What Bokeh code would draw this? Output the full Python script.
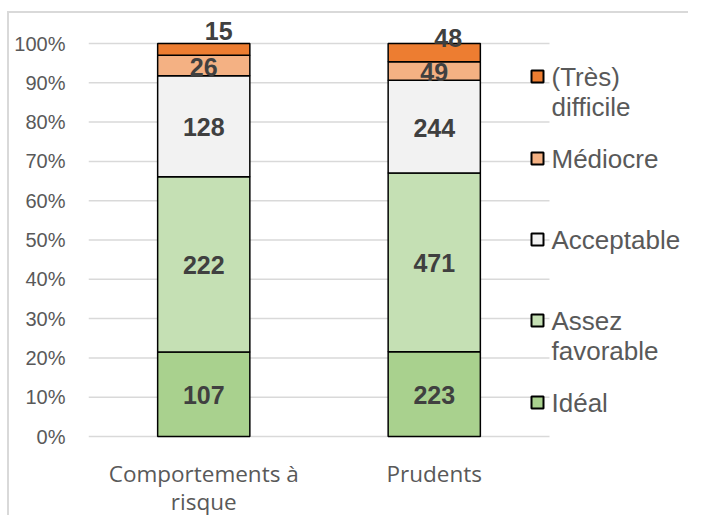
from bokeh.plotting import figure
from bokeh.models import ColumnDataSource, Range1d, FixedTicker, PrintfTickFormatter
from bokeh.core.properties import value
from bokeh.embed import file_html
from bokeh.resources import INLINE

# ---------------- data ----------------
categories = ["Comportements à\nrisque", "Prudents"]
series_names = ["Idéal", "Assez favorable", "Acceptable", "Médiocre", "(Très) difficile"]
ideal = [107, 223]
assez_favorable = [222, 471]
acceptable = [128, 244]
mediocre = [26, 49]
tres_difficile = [15, 48]
y_ticks = [0, 10, 20, 30, 40, 50, 60, 70, 80, 90, 100]

series_values = [ideal, assez_favorable, acceptable, mediocre, tres_difficile]
colors = ["#A9D18E", "#C5E0B4", "#F2F2F2", "#F4B183", "#ED7D31"]
keys = ["s0", "s1", "s2", "s3", "s4"]

# ---------------- layout ----------------
PX = 3.93          # px per percent
UNIT = 230.5       # px per category
LEFT = 88
FRAME_W, FRAME_H = 600, 515
Y0 = 436           # canvas y of 0 %
Y100 = 43          # canvas y of 100 %
x_pos = [0.5, 1.5]
totals = [sum(v[i] for v in series_values) for i in range(len(categories))]

p = figure(output_backend="svg", toolbar_location=None,
           frame_width=FRAME_W, frame_height=FRAME_H,
           x_range=Range1d(0, FRAME_W / UNIT),
           y_range=Range1d(-(FRAME_H - Y0) / PX, 100 + Y100 / PX),
           min_border_left=LEFT, min_border_right=0, min_border_top=0, min_border_bottom=0)
p.background_fill_color = None
p.border_fill_color = None
p.outline_line_color = None
p.xgrid.visible = False
p.ygrid.visible = False
# light chart-area border (left and top edges) painted behind the transparent canvas
p.styles = {"background": "linear-gradient(#d9d9d9, #d9d9d9) 7px 11px / 2px 100% no-repeat, "
                          "linear-gradient(#d9d9d9, #d9d9d9) 7px 11px / 100% 2px no-repeat, white"}

# gridlines limited to plot area
p.segment(x0=[0] * len(y_ticks), x1=[2] * len(y_ticks), y0=y_ticks, y1=y_ticks,
          line_color="#d9d9d9", line_width=1.5)

# stacked bars (percent)
pct = {"x": x_pos}
for k, vals in zip(keys, series_values):
    pct[k] = [100.0 * vals[i] / totals[i] for i in range(len(categories))]
src = ColumnDataSource(pct)
p.vbar_stack(keys, x="x", width=0.4, source=src, fill_color=colors,
             line_color="black", line_width=1.5)

# data labels
lx, ly, lt, dx, dy = [], [], [], [], []
top_dx = [15, 14]
top_dy = [-18, -15]
for i in range(len(categories)):
    cum = 0.0
    for j, k in enumerate(keys):
        v = pct[k][i]
        lx.append(x_pos[i])
        ly.append(cum + v / 2)
        lt.append(str(series_values[j][i]))
        if j == len(keys) - 1:
            dx.append(top_dx[i]); dy.append(top_dy[i])
        else:
            dx.append(0); dy.append(1)
        cum += v
lsrc = ColumnDataSource(dict(x=lx, y=ly, text=lt, dx=dx, dy=dy))
p.text(x="x", y="y", text="text", x_offset="dx", y_offset="dy", source=lsrc,
       text_font=value("Liberation Sans"), text_font_style="bold",
       text_font_size="25px", text_color="#404040",
       text_align="center", text_baseline="middle")

# legend (manual, top to bottom)
leg_y_px = [76, 158, 239, 320, 402]
leg_y = [(Y0 - c) / PX for c in leg_y_px]
leg_names = list(reversed(series_names))
leg_colors = list(reversed(colors))
p.rect(x=[449 / UNIT] * 5, y=leg_y, width=12, height=12,
       width_units="screen", height_units="screen",
       fill_color=leg_colors, line_color="black", line_width=2)
tx, ty, tt, toff = [], [], [], []
for name, yy in zip(leg_names, leg_y):
    parts = name.split(" ") if name in ("(Très) difficile", "Assez favorable") else [name]
    for n, part in enumerate(parts):
        tx.append(463 / UNIT)
        ty.append(yy)
        tt.append(part)
        toff.append(30 * n)
tsrc = ColumnDataSource(dict(x=tx, y=ty, text=tt, off=toff))
p.text(x="x", y="y", text="text", y_offset="off", source=tsrc,
       text_font=value("Liberation Sans"), text_font_size="26px",
       text_color="#595959", text_align="left", text_baseline="middle")

# axes
p.yaxis.ticker = FixedTicker(ticks=y_ticks)
p.yaxis.formatter = PrintfTickFormatter(format="%d%%")
p.yaxis.major_label_text_font = "Liberation Sans"
p.yaxis.major_label_text_font_size = "20px"
p.yaxis.major_label_text_color = "#595959"
p.yaxis.major_label_standoff = 17
p.yaxis.axis_line_color = None
p.yaxis.major_tick_line_color = None
p.yaxis.minor_tick_line_color = None

p.xaxis.ticker = FixedTicker(ticks=x_pos)
p.xaxis.major_label_overrides = {x_pos[i]: categories[i] for i in range(len(categories))}
p.xaxis.fixed_location = 0
p.xaxis.major_label_text_font = "Open Sans"
p.xaxis.major_label_text_font_size = "22.5px"
p.xaxis.major_label_text_color = "#595959"
p.xaxis.major_label_text_line_height = 0.92
p.xaxis.major_label_standoff = 15
p.xaxis.axis_line_color = None
p.xaxis.major_tick_line_color = None
p.xaxis.minor_tick_line_color = None

open("out.html", "w").write(file_html(p, INLINE))
